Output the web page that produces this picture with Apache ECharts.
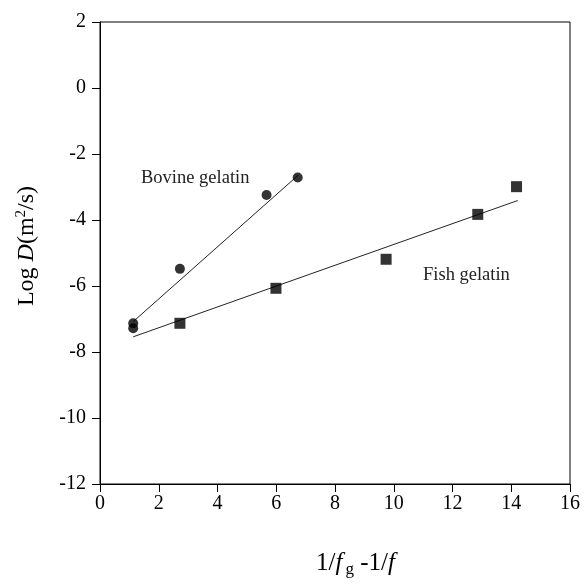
<!DOCTYPE html>
<html>
<head>
<meta charset="utf-8">
<script src="https://cdn.jsdelivr.net/npm/echarts@6/dist/echarts.min.js"></script>
<style>
  html, body { margin: 0; padding: 0; background: #fff; }
  #main { width: 585px; height: 587px; }
</style>
</head>
<body>
<div id="main"></div>
<script>
// data
var bovinePoints = [[1.13, -7.13], [1.13, -7.28], [2.72, -5.48], [5.67, -3.24], [6.73, -2.71]];
var fishPoints = [[2.72, -7.13], [5.99, -6.07], [9.74, -5.19], [12.86, -3.83], [14.18, -2.99]];
// fitted lines (end points)
var bovineFit = [[1.13, -7.08], [6.75, -2.64]];
var fishFit = [[1.13, -7.54], [14.22, -3.41]];
var xTicks = { min: 0, max: 16, interval: 2 };
var yTicks = { min: -12, max: 2, interval: 2 };

var serif = '"Liberation Serif", "DejaVu Serif", serif';
var myChart = echarts.init(document.getElementById('main'));

myChart.setOption({
  animation: false,
  textStyle: { fontFamily: serif },
  grid: {
    left: 100, right: 15, top: 22, bottom: 103,
    show: true, borderColor: '#000', borderWidth: 1
  },
  xAxis: {
    type: 'value',
    min: xTicks.min, max: xTicks.max, interval: xTicks.interval,
    axisLine: { onZero: false, lineStyle: { color: '#000', width: 1 } },
    axisTick: { show: true, inside: false, length: 8, lineStyle: { color: '#000' } },
    axisLabel: { color: '#000', fontSize: 20, fontFamily: serif, margin: 10 },
    splitLine: { show: false },
    name: '{n|1/}{i|f}{s|g}{n| -1/}{i|f}',
    nameLocation: 'middle',
    nameGap: 64,
    nameTextStyle: {
      padding: [0, 0, 0, 44],
      rich: {
        n: { fontSize: 25, fontFamily: serif, color: '#000' },
        i: { fontSize: 25, fontFamily: serif, fontStyle: 'italic', color: '#000', padding: [0, 3, 0, 0] },
        s: { fontSize: 17, fontFamily: serif, color: '#000', padding: [13, 0, 0, 0] }
      }
    }
  },
  yAxis: {
    type: 'value',
    min: yTicks.min, max: yTicks.max, interval: yTicks.interval,
    axisLine: { show: true, onZero: false, lineStyle: { color: '#000', width: 1 } },
    axisTick: { show: true, inside: false, length: 8, lineStyle: { color: '#000' } },
    axisLabel: { color: '#000', fontSize: 20, fontFamily: serif, margin: 14 },
    splitLine: { show: false },
    name: '{n|Log }{i|D}{n|(m}{p|2}{n|/s)}',
    nameLocation: 'middle',
    nameRotate: 90,
    nameGap: 60,
    nameTextStyle: {
      padding: [0, 0, 0, 14],
      rich: {
        n: { fontSize: 24, fontFamily: serif, color: '#000' },
        i: { fontSize: 24, fontFamily: serif, fontStyle: 'italic', color: '#000' },
        p: { fontSize: 15, fontFamily: serif, color: '#000', padding: [0, 0, 11, 0] }
      }
    }
  },
  graphic: [
    { type: 'text', left: 141, top: 169, style: { text: 'Bovine gelatin', font: '18.5px ' + serif, fill: '#222' } },
    { type: 'text', left: 423, top: 266, style: { text: 'Fish gelatin', font: '18.5px ' + serif, fill: '#222' } }
  ],
  series: [
    {
      name: 'Bovine fit', type: 'line', data: bovineFit, showSymbol: false, symbol: 'none',
      lineStyle: { color: '#222', width: 1 }, z: 1
    },
    {
      name: 'Fish fit', type: 'line', data: fishFit, showSymbol: false, symbol: 'none',
      lineStyle: { color: '#222', width: 1 }, z: 1
    },
    {
      name: 'Bovine gelatin', type: 'scatter', data: bovinePoints,
      symbol: 'circle', symbolSize: 10, itemStyle: { color: '#000' }, z: 3
    },
    {
      name: 'Fish gelatin', type: 'scatter', data: fishPoints,
      symbol: 'rect', symbolSize: 11, itemStyle: { color: '#000' }, z: 3
    }
  ]
});
</script>
</body>
</html>
